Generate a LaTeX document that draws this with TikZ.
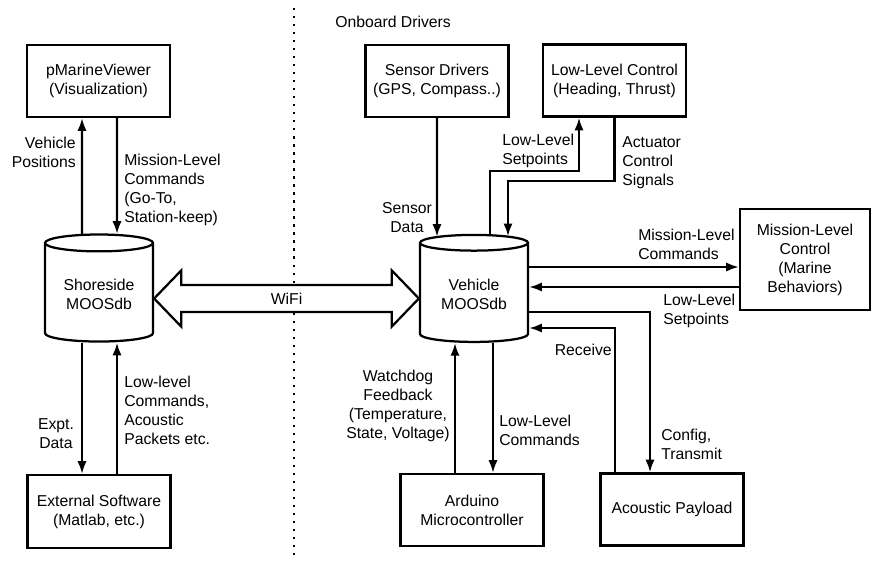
\documentclass[tikz,border=0pt]{standalone}
\usepackage{fontspec}
\setmainfont{Liberation Sans}
\usetikzlibrary{arrows.meta, positioning, calc, shapes.geometric}

\begin{document}
\begin{tikzpicture}[
        x=0.025cm, y=-0.025cm,
        every node/.style={font=\fontsize{11.2}{13.5}\selectfont},
        b/.style={draw, line width=1.6pt, minimum width=3.575cm, minimum height=1.8cm, align=center, inner sep=2pt},
        db/.style={draw, cylinder, shape border rotate=90, aspect=0.21, minimum width=2.7cm, minimum height=2.675cm, line width=1.6pt, align=center},
        lbl/.style={inner sep=0pt},
        wifi/.style={draw, line width=1.6pt, fill=white, line join=miter},
        ln/.style={->, line width=1.6pt},
        >={Latex[length=9pt,width=6.5pt]}
    ]
        \useasboundingbox (0,0) rectangle (872,562);

        \draw[line width=1.6pt, dash pattern=on 1.6pt off 4.1pt] (294,8) -- (294,555);
        \node[lbl, anchor=west] (onb) at (335,22) {Onboard Drivers};

        \node[b] (viewer) at (98.5,81) {pMarineViewer\\(Visualization)};
        \node[b] (sensor) at (437,81) {Sensor Drivers\\(GPS, Compass..)};
        \node[b] (llc) at (614.5,80.5) {Low-Level Control\\(Heading, Thrust)};
        \node[b, minimum width=3.25cm, minimum height=2.525cm] (mlc) at (805,259.5) {Mission-Level\\Control\\(Marine\\Behaviors)};

        \node[db] (sdb) at (99,294.5) {Shoreside\\MOOSdb};
        \node[db] (vdb) at (474,294.5) {Vehicle\\MOOSdb};

        \node[b, minimum height=1.825cm] (ext) at (99,511.5) {External Software\\(Matlab, etc.)};
        \node[b] (ard) at (472,510) {Arduino\\Microcontroller};
        \node[b] (acp) at (672,509.5) {Acoustic Payload};

        \coordinate (wl) at ($(sdb.east)+(0,4)$);
        \coordinate (wr) at ($(vdb.west)+(0,4)$);
        \draw[wifi] (wl) -- ++(27,-28) -- ++(0,14.5) -- ($(wr)+(-27,-13.5)$) -- ++(0,-14.5) -- (wr)
            -- ++(-27,28) -- ++(0,-14.5) -- ($(wl)+(27,13.5)$) -- ++(0,14.5) -- cycle;
        \node (wifitxt) at ($(wl)!0.5!(wr)$) {WiFi};

        \draw[ln] ($(sdb.north)+(-17,0.5)$) -- ($(viewer.south)+(-16.5,0)$);
        \draw[ln] ($(viewer.south)+(18.5,0)$) -- ($(sdb.north)+(18,0.5)$);
        \draw[ln] ($(sdb.south)+(-17,0)$) -- ($(ext.north)+(-17,0)$);
        \draw[ln] ($(ext.north)+(18,0)$) -- ($(sdb.south)+(18,0)$);

        \draw[ln] (sensor.south) -- ($(vdb.north)+(-37,3)$);
        \draw[ln] ($(vdb.north)+(16,1)$) |- ($(llc.south)+(-35.5,53)$) -- ($(llc.south)+(-35.5,0)$);
        \draw[ln] (llc.south) |- ($(vdb.north)+(34,-53)$) -- ($(vdb.north)+(34,2.5)$);
        \draw[ln] ($(vdb.east)+(0,-27.5)$) -- ($(mlc.west |- vdb.east)+(0,-27.5)$);
        \draw[ln] ($(mlc.west |- vdb.east)+(0,-7.5)$) -- ($(vdb.east)+(0,-7.5)$);
        \draw[ln] ($(vdb.east)+(0,17.5)$) -| ($(acp.north)+(-22,0)$);
        \draw[ln] ($(acp.north)+(-57,0)$) |- ($(vdb.east)+(0,33.5)$);
        \draw[ln] ($(ard.north)+(-17,0)$) -- ($(vdb.south)+(-19,0)$);
        \draw[ln] ($(vdb.south)+(19,0)$) -- ($(ard.north)+(21,0)$);

        \node[lbl, align=right, anchor=east] (vpos) at (76,152) {Vehicle\\Positions};
        \node[lbl, align=left, anchor=west] (mcmd) at (124,190) {Mission-Level\\Commands\\(Go-To,\\Station-keep)};
        \node[lbl, align=center] (sdata) at (407,218) {Sensor\\Data};
        \node[lbl, align=left, anchor=west] (llsp) at (502,151) {Low-Level\\Setpoints};
        \node[lbl, align=left, anchor=west] (acs) at (622,163) {Actuator\\Control\\Signals};
        \node[lbl, align=left, anchor=west] (mlcmd) at (638,244) {Mission-Level\\Commands};
        \node[lbl, align=left, anchor=west] (llsp2) at (663,311) {Low-Level\\Setpoints};
        \node[lbl, anchor=east] (recv) at (612,350) {Receive};
        \node[lbl, align=center] (wdog) at (398,406) {Watchdog\\Feedback\\(Temperature,\\State, Voltage)};
        \node[lbl, align=left, anchor=west] (llcmd) at (499,430) {Low-Level\\Commands};
        \node[lbl, align=left, anchor=west] (cfg) at (661,444) {Config,\\Transmit};
        \node[lbl, align=left, anchor=west] (pkts) at (124,410) {Low-level\\Commands,\\Acoustic\\Packets etc.};
        \node[lbl, align=center] (expt) at (56,434) {Expt.\\Data};
    \end{tikzpicture}
\end{document}
